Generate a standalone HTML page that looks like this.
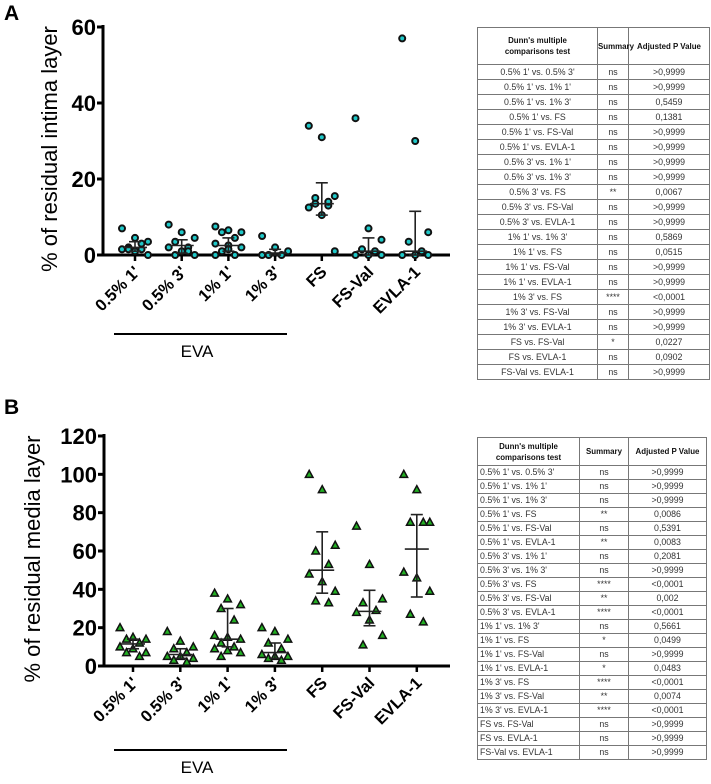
<!DOCTYPE html>
<html><head><meta charset="utf-8"><style>
body{margin:0;width:711px;height:784px;background:#fff;position:relative;overflow:hidden;font-family:"Liberation Sans",sans-serif}
svg{position:absolute;left:0;top:0}
table{position:absolute;border-collapse:collapse;font-size:8.8px;color:#333;table-layout:fixed}
td{border:1px solid #777;padding:0 2px;white-space:nowrap;overflow:hidden;text-align:center}
th{border:1px solid #777;font-size:7.9px;font-weight:bold;padding:0;line-height:11px;color:#111;white-space:nowrap}
#tabB td:first-child{text-align:left}
</style></head><body>
<svg id="chart" width="711" height="784"></svg>
<table id="tabA" style="left:477px;top:27px;width:232px">
<colgroup><col style="width:120px"><col style="width:31px"><col style="width:81px"></colgroup>
</table>
<table id="tabB" style="left:477px;top:437px;width:229px">
<colgroup><col style="width:102px"><col style="width:49px"><col style="width:78px"></colgroup>
</table>
<script>
const categories=["0.5% 1'","0.5% 3'","1% 1'","1% 3'","FS","FS-Val","EVLA-1"];
const intimaValues=[[7,4.5,3.5,2,1.5,1.5,1,0,1.5,3],[8,6,4.5,3.5,2,2,1,0,0,1],[7.5,6.5,6,6,4.5,3,2.5,2,1,0,0,1.5],[5,2,1,0,0,0],[34,31,15.5,15,13,12.5,10.5,1,13.5,14],[36,7,4,1.5,1,0,0,0],[57,30,6,3.5,1,0,0,0]];
const intimaMid=[2,2.5,2.5,0.5,13.5,1,1];
const intimaLo=[1,0.5,1,0,10.5,0,0];
const intimaHi=[3.5,4,4.5,1.5,19,4.5,11.5];
const intimaTicks=[0,20,40,60];
const mediaValues=[[20,15,14,14,12,10,9,7,7,5],[18,13,10,9,7,5,5,4,3,2],[38,35,32,30,24,16,15,14,12,10,9,8,7,5],[20,18,14,12,9,6,5,5,4,3],[100,92,63,60,53,48,44,39,34,33],[73,53,35,33,29,28,24,16,11],[100,92,75,75,75,49,46,39,27,23]];
const mediaMid=[11.5,6,14,7,50,28.5,61];
const mediaLo=[9,4,10,4,38,21,36];
const mediaHi=[14,9,30,12,70,39.5,79];
const mediaTicks=[0,20,40,60,80,100,120];
const tableA=[["0.5% 1' vs. 0.5% 3'","ns",">0,9999"],["0.5% 1' vs. 1% 1'","ns",">0,9999"],["0.5% 1' vs. 1% 3'","ns","0,5459"],["0.5% 1' vs. FS","ns","0,1381"],["0.5% 1' vs. FS-Val","ns",">0,9999"],["0.5% 1' vs. EVLA-1","ns",">0,9999"],["0.5% 3' vs. 1% 1'","ns",">0,9999"],["0.5% 3' vs. 1% 3'","ns",">0,9999"],["0.5% 3' vs. FS","**","0,0067"],["0.5% 3' vs. FS-Val","ns",">0,9999"],["0.5% 3' vs. EVLA-1","ns",">0,9999"],["1% 1' vs. 1% 3'","ns","0,5869"],["1% 1' vs. FS","ns","0,0515"],["1% 1' vs. FS-Val","ns",">0,9999"],["1% 1' vs. EVLA-1","ns",">0,9999"],["1% 3' vs. FS","****","<0,0001"],["1% 3' vs. FS-Val","ns",">0,9999"],["1% 3' vs. EVLA-1","ns",">0,9999"],["FS vs. FS-Val","*","0,0227"],["FS vs. EVLA-1","ns","0,0902"],["FS-Val vs. EVLA-1","ns",">0,9999"]];
const tableB=[["0.5% 1' vs. 0.5% 3'","ns",">0,9999"],["0.5% 1' vs. 1% 1'","ns",">0,9999"],["0.5% 1' vs. 1% 3'","ns",">0,9999"],["0.5% 1' vs. FS","**","0,0086"],["0.5% 1' vs. FS-Val","ns","0,5391"],["0.5% 1' vs. EVLA-1","**","0,0083"],["0.5% 3' vs. 1% 1'","ns","0,2081"],["0.5% 3' vs. 1% 3'","ns",">0,9999"],["0.5% 3' vs. FS","****","<0,0001"],["0.5% 3' vs. FS-Val","**","0,002"],["0.5% 3' vs. EVLA-1","****","<0,0001"],["1% 1' vs. 1% 3'","ns","0,5661"],["1% 1' vs. FS","*","0,0499"],["1% 1' vs. FS-Val","ns",">0,9999"],["1% 1' vs. EVLA-1","*","0,0483"],["1% 3' vs. FS","****","<0,0001"],["1% 3' vs. FS-Val","**","0,0074"],["1% 3' vs. EVLA-1","****","<0,0001"],["FS vs. FS-Val","ns",">0,9999"],["FS vs. EVLA-1","ns",">0,9999"],["FS-Val vs. EVLA-1","ns",">0,9999"]];

const NS="http://www.w3.org/2000/svg";
const svg=document.getElementById('chart');
function mk(tag,attrs,parent){const e=document.createElementNS(NS,tag);for(const k in attrs)e.setAttribute(k,attrs[k]);(parent||svg).appendChild(e);return e;}

function drawChart(cfg){
  const g=mk('g',{});
  
  
  const y=v=>cfg.y0-(v/cfg.max)*(cfg.y0-cfg.yTop);
  const x=i=>cfg.x0+i*cfg.step;
  const L=mk('text',{x:4,y:cfg.letterY,'font-size':21,'font-weight':'bold'},g);L.textContent=cfg.letter;
  
  
  const ya=mk('line',{x1:cfg.ax,y1:cfg.yTop-2,x2:cfg.ax,y2:cfg.y0+1,stroke:'#000','stroke-width':3},g);
  
  
  const xa=mk('line',{x1:cfg.ax-1,y1:cfg.y0,x2:450,y2:cfg.y0,stroke:'#000','stroke-width':3},g);
  
  
  cfg.ticks.forEach(t=>{
    mk('line',{x1:cfg.ax-6,y1:y(t),x2:cfg.ax,y2:y(t),stroke:'#000','stroke-width':3},g);
    const tt=mk('text',{x:cfg.ax-7,y:y(t)+8,'font-size':22,'font-weight':'bold','text-anchor':'end'},g);
    tt.textContent=t;
    
    
  });
  const yt=mk('text',{x:0,y:0,'font-size':cfg.titleSize,'text-anchor':'middle',transform:`translate(${cfg.titleX},${(cfg.yTop+cfg.y0)/2+8}) rotate(-90)`},g);
  yt.textContent=cfg.title;
  
  
  categories.forEach((c,i)=>{
    mk('line',{x1:x(i),y1:cfg.y0,x2:x(i),y2:cfg.y0+6,stroke:'#000','stroke-width':2.5},g);
    const ct=mk('text',{x:0,y:0,'font-size':16.5,'font-weight':'bold','text-anchor':'end',transform:`translate(${x(i)+6},${cfg.y0+18}) rotate(-45)`},g);
    ct.textContent=c;
    
    
    const vals=cfg.values[i];
    vals.forEach((v,j)=>{
      const off=((j*7)%5-2)*6.5;
      const px=x(i)+off, py=y(v);
      let m;
      if(cfg.marker==='circle') m=mk('circle',{cx:px,cy:py,r:3,fill:'#1fc8c8',stroke:'#111','stroke-width':2},g);
      else m=mk('polygon',{points:`${px},${py-4} ${px+3.8},${py+3} ${px-3.8},${py+3}`,fill:'#22b022',stroke:'#111','stroke-width':1.5},g);
      
      
    });
    const eb=mk('g',{stroke:'#222','stroke-width':1.6},g);
    
    
    mk('line',{x1:x(i),y1:y(cfg.hi[i]),x2:x(i),y2:y(cfg.lo[i])},eb);
    mk('line',{x1:x(i)-6,y1:y(cfg.hi[i]),x2:x(i)+6,y2:y(cfg.hi[i])},eb);
    mk('line',{x1:x(i)-6,y1:y(cfg.lo[i]),x2:x(i)+6,y2:y(cfg.lo[i])},eb);
    mk('line',{x1:x(i)-12,y1:y(cfg.mid[i]),x2:x(i)+12,y2:y(cfg.mid[i])},eb);
  });
  const el=mk('line',{x1:114,y1:cfg.evaY,x2:287,y2:cfg.evaY,stroke:'#000','stroke-width':2},g);
  
  
  const et=mk('text',{x:197,y:cfg.evaY+23,'font-size':17,'text-anchor':'middle'},g);
  et.textContent='EVA';
  
  
}
drawChart({name:'chart-a-intima',letter:'A',letterY:20,ax:103,x0:135,step:46.7,y0:255,yTop:27,max:60,ticks:intimaTicks,title:'% of residual intima layer',titleSize:22,titleX:57,values:intimaValues,mid:intimaMid,lo:intimaLo,hi:intimaHi,marker:'circle',evaY:334});
drawChart({name:'chart-b-media',letter:'B',letterY:414,ax:104,x0:133,step:47.3,y0:666,yTop:436,max:120,ticks:mediaTicks,title:'% of residual media layer',titleSize:22,titleX:40,values:mediaValues,mid:mediaMid,lo:mediaLo,hi:mediaHi,marker:'tri',evaY:750});

function fillTable(id,rows,hh,rh){
  const t=document.getElementById(id);
  const h=document.createElement('tr');h.style.height=hh+'px';
  h.innerHTML="<th>Dunn's multiple<br>comparisons test</th><th>Summary</th><th>Adjusted P Value</th>";
  t.appendChild(h);
  rows.forEach(r=>{
    const tr=document.createElement('tr');tr.style.height=rh+'px';
    
    
    r.forEach(c=>{const td=document.createElement('td');td.textContent=c;td.style.lineHeight=(rh-1)+'px';tr.appendChild(td);});
    t.appendChild(tr);
  });
}
fillTable('tabA',tableA,37,15);
fillTable('tabB',tableB,28,14);
</script>
</body></html>
